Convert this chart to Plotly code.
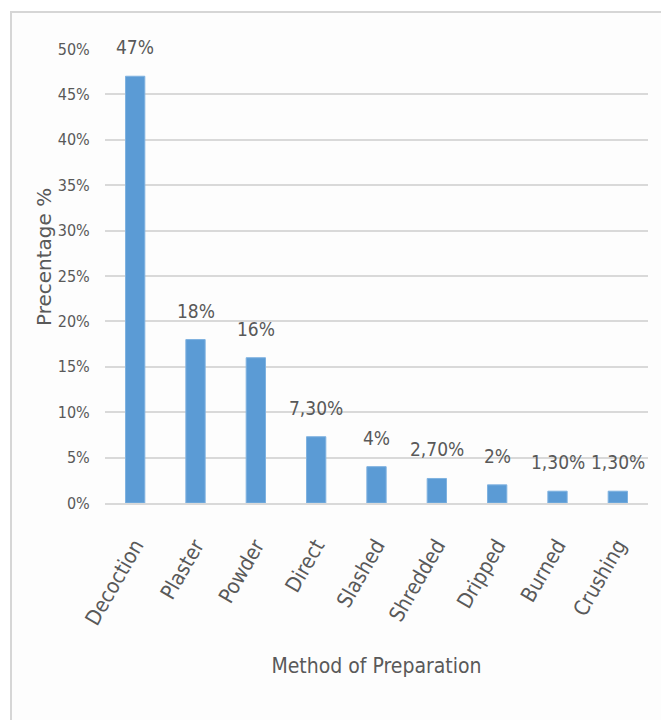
import plotly.graph_objects as go

# Share of each preparation method (%)
methods = ["Decoction", "Plaster", "Powder", "Direct", "Slashed",
           "Shredded", "Dripped", "Burned", "Crushing"]
percent = [47, 18, 16, 7.3, 4, 2.7, 2, 1.3, 1.3]
y_ticks = [0, 5, 10, 15, 20, 25, 30, 35, 40, 45, 50]


def pct_label(v):
    # integers as "47%", fractions with a decimal comma, e.g. "7,30%"
    if float(v).is_integer():
        return f"{int(v)}%"
    return f"{v:.2f}".replace(".", ",") + "%"


TXT = "#595959"
GRID = "#d9d9d9"
FONT = "DejaVu Sans Condensed, Roboto, sans-serif"

W, H = 661, 720
ML, MR, MT, MB = 105, 13, 49, 217
pw, ph = W - ML - MR, H - MT - MB


def px_x(px):
    return (px - ML) / pw


def px_y(py):
    return (H - MB - py) / ph


fig = go.Figure(
    go.Bar(
        x=methods,
        y=percent,
        marker=dict(color="#5b9bd5", line=dict(color="#7fb2e0", width=1)),
        width=0.32,
    )
)

for m, v in zip(methods, percent):
    fig.add_annotation(
        x=m, y=v, text=pct_label(v), showarrow=False,
        yanchor="bottom", yshift=16,
        font=dict(family=FONT, size=19, color=TXT),
    )

# y-axis title
fig.add_annotation(
    xref="paper", yref="paper", x=px_x(44), y=px_y(257),
    text="Precentage %", textangle=-90, showarrow=False,
    xanchor="center", yanchor="middle",
    font=dict(family="DejaVu Sans", size=20, color=TXT),
)

# light outer frame
fig.add_shape(
    type="rect", xref="paper", yref="paper", layer="below",
    x0=px_x(11), x1=px_x(W + 5),
    y0=px_y(H + 5), y1=px_y(12),
    line=dict(color="#d6d6d6", width=2), fillcolor="#fdfdfd",
)

fig.update_layout(
    width=W, height=H,
    margin=dict(l=ML, r=MR, t=MT, b=MB),
    paper_bgcolor="white",
    plot_bgcolor="rgba(0,0,0,0)",
    showlegend=False,
    xaxis=dict(
        tickangle=-60,
        tickfont=dict(family=FONT, size=21, color=TXT),
        ticks="outside", ticklen=20, tickcolor="rgba(0,0,0,0)",
        showline=True, linecolor=GRID, linewidth=2,
        title=dict(text="Method of Preparation",
                   font=dict(family=FONT, size=21, color=TXT), standoff=30),
        automargin=False,
    ),
    yaxis=dict(
        range=[0, 50],
        tickvals=y_ticks,
        ticktext=[f"{t}%" for t in y_ticks],
        tickfont=dict(family=FONT, size=16, color=TXT),
        ticks="outside", ticklen=11, tickcolor="rgba(0,0,0,0)",
        showgrid=True, gridcolor=GRID, gridwidth=2,
        zeroline=False,
        automargin=False,
    ),
)

fig.write_html("out.html")
